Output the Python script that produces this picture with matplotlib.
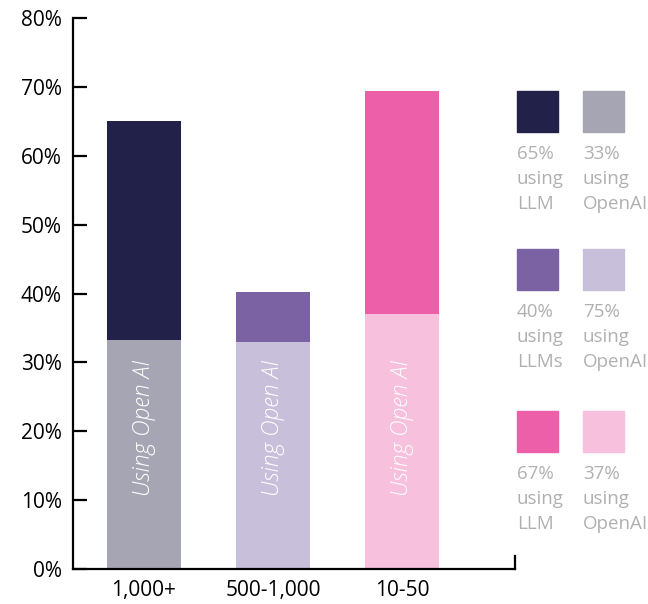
import matplotlib.pyplot as plt
from matplotlib.patches import Rectangle

# data
categories = ['1,000+', '500-1,000', '10-50']
openai_share = [33.2, 32.9, 37.0]
llm_total = [65.0, 40.2, 69.4]
llm_colors = ['#22214a', '#7a62a3', '#ee5fa9']
openai_colors = ['#a6a5b4', '#c8c0da', '#f7c0dc']
legend_llm = ['65%\nusing\nLLM', '40%\nusing\nLLMs', '67%\nusing\nLLM']
legend_openai = ['33%\nusing\nOpenAI', '75%\nusing\nOpenAI', '37%\nusing\nOpenAI']
yticks = [0, 10, 20, 30, 40, 50, 60, 70, 80]

plt.rcParams['font.family'] = ['Open Sans', 'DejaVu Sans']

fig = plt.figure(figsize=(6.48, 6.04), dpi=100)
ax = fig.add_axes([73/648, 1 - 569/604, 442/648, 551/604])

x = range(len(categories))
upper = [t - b for t, b in zip(llm_total, openai_share)]
ax.bar(x, openai_share, width=0.574, color=openai_colors)
ax.bar(x, upper, bottom=openai_share, width=0.574, color=llm_colors)

for i in x:
    ax.text(i, 20.5, 'Using Open AI', rotation=90, ha='center', va='center',
            color='white', fontsize=16.5, fontstyle='italic', fontweight='light')

ax.set_xlim(-0.55, 2.876)
ax.set_ylim(0, 80)
ax.set_yticks(yticks)
ax.set_yticklabels([f'{v}%' for v in yticks])
ax.set_xticks(list(x))
ax.set_xticklabels(categories)

for s in ['top', 'right']:
    ax.spines[s].set_visible(False)
for s in ['left', 'bottom']:
    ax.spines[s].set_linewidth(1.6)
ax.tick_params(axis='y', direction='in', length=10, width=1.6, pad=8, labelsize=15)
ax.tick_params(axis='x', length=0, pad=8, labelsize=15)
# small tick at the right end of the x axis
ax.axvline(2.876, ymin=0, ymax=13/551, color='black', lw=1.6, clip_on=False)

# legend squares with captions
rows_y = [91, 249, 411]
cols_x = [517, 583]
for r, y in enumerate(rows_y):
    for c, (xx, col, lab) in enumerate(zip(cols_x, [llm_colors[r], openai_colors[r]],
                                           [legend_llm[r], legend_openai[r]])):
        fig.patches.append(Rectangle((xx/648, 1 - (y + 41)/604), 41/648, 41/604,
                                     transform=fig.transFigure, color=col))
        fig.text(xx/648, 1 - (y + 54)/604, lab, ha='left', va='top',
                 fontsize=13.5, color='#b0b0b0', linespacing=1.5)

fig.savefig('out.png', dpi=100)
